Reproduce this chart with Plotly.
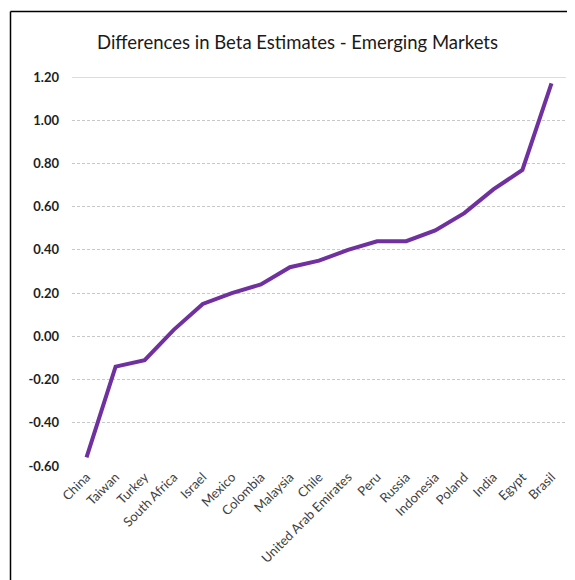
import plotly.graph_objects as go

countries = ["China", "Taiwan", "Turkey", "South Africa", "Israel", "Mexico",
             "Colombia", "Malaysia", "Chile", "United Arab Emirates", "Peru",
             "Russia", "Indonesia", "Poland", "India", "Egypt", "Brasil"]
beta_diff = [-0.56, -0.14, -0.11, 0.03, 0.15, 0.20, 0.24, 0.32, 0.35,
             0.40, 0.44, 0.44, 0.49, 0.57, 0.68, 0.77, 1.17]
y_ticks = [-0.6, -0.4, -0.2, 0.0, 0.2, 0.4, 0.6, 0.8, 1.0, 1.2]
y_tick_labels = ["-0.60", "-0.40", "-0.20", "0.00", "0.20", "0.40",
                 "0.60", "0.80", "1.00", "1.20"]

# page body has an 8px margin; figure coordinates are screen coords minus 8
OFF = 8
W, H = 575 - OFF, 580 - OFF
ML, MT = 72 - OFF, 77 - OFF
MR = W - (566 - OFF)
MB = H - (466 - OFF)
pw = W - ML - MR
ph = H - MT - MB

def px_x(p):
    return (p - OFF - ML) / pw

def px_y(p):
    return (H - MB - (p - OFF)) / ph

fig = go.Figure()
fig.add_trace(go.Scatter(
    x=countries, y=beta_diff, mode="lines",
    line=dict(color="#7030A0", width=4),
    hoverinfo="x+y",
))

fig.update_layout(
    width=W, height=H,
    margin=dict(l=ML, r=MR, t=MT, b=MB),
    paper_bgcolor="white", plot_bgcolor="white",
    showlegend=False,
    title=dict(
        text="Differences in Beta Estimates - Emerging Markets",
        x=px_x(297.5), xref="paper", xanchor="center",
        y=1 - (43 - OFF) / H, yref="container", yanchor="middle",
        font=dict(family="Lato", size=18.5, color="#1a1a1a"),
    ),
    font=dict(family="Lato"),
)

fig.update_xaxes(
    type="category", tickangle=-45,
    showgrid=False, showline=False, zeroline=False, ticks="",
    tickfont=dict(family="Lato", size=13, color="#404040"),
    range=[-0.5, len(countries) - 0.5],
)

fig.update_yaxes(
    range=[y_ticks[0], y_ticks[-1]],
    tickvals=y_ticks, ticktext=y_tick_labels,
    showgrid=True, gridcolor="#c8c8c8", gridwidth=1, griddash="3px,2px",
    zeroline=False, showline=False, ticks="",
    ticklabelstandoff=12,
    tickfont=dict(family="Lato", size=13, color="#1f1f1f", weight="bold"),
)

# solid top gridline
fig.add_shape(type="line", xref="paper", yref="y",
              x0=0, x1=1, y0=y_ticks[-1], y1=y_ticks[-1],
              line=dict(color="#d0d0d0", width=1.5))

# outer frame (left and top)
fig.add_shape(type="line", xref="paper", yref="paper",
              x0=px_x(10.5), x1=px_x(10.5), y0=px_y(11.5), y1=px_y(600),
              line=dict(color="black", width=1.5))
fig.add_shape(type="line", xref="paper", yref="paper",
              x0=px_x(10.5), x1=px_x(600), y0=px_y(11.5), y1=px_y(11.5),
              line=dict(color="black", width=1.5))

fig.write_html("out.html")
